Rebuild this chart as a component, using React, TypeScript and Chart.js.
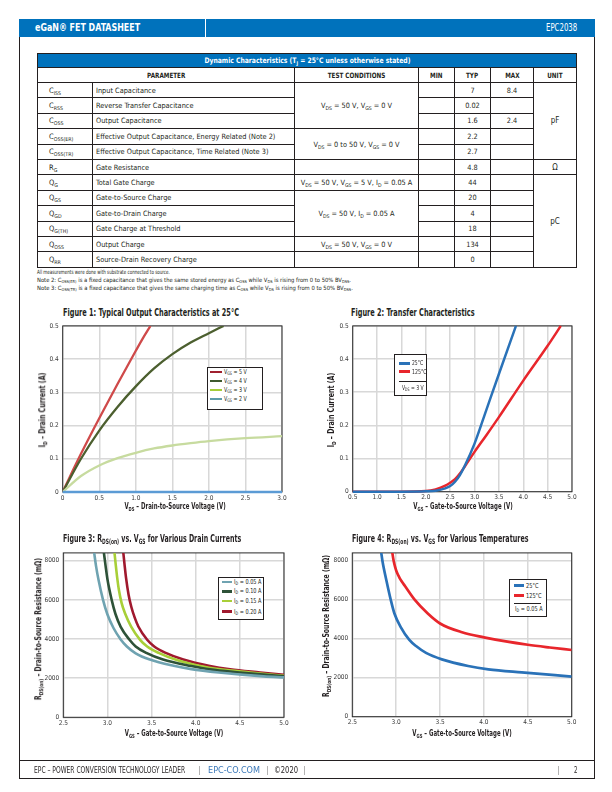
import React, { useEffect, useLayoutEffect, useRef } from "react";
import { Chart, registerables } from "chart.js";
Chart.register(...registerables);

const FONT = "'Liberation Sans Narrow', 'Arial Narrow', 'DejaVu Sans Condensed', sans-serif";
const BLUE = "#0072BC";
const INK = "#231F20";

// ---------------- Figure 1: Output characteristics ----------------
const fig1XTicks = [0, 0.5, 1, 1.5, 2, 2.5, 3];
const fig1XLabels = ["0", "0.5", "1.0", "1.5", "2.0", "2.5", "3.0"];
const fig1YTicks = [0, 0.1, 0.2, 0.3, 0.4, 0.5];
const fig1YLabels = ["0", "0.1", "0.2", "0.3", "0.4", "0.5"];
const fig1Vds5 = [0, 0.1, 0.25, 0.5, 0.75, 1.0, 1.1, 1.2];
const fig1Id5 = [0, 0.047, 0.115, 0.222, 0.325, 0.425, 0.464, 0.5];
const fig1Vds4 = [0, 0.25, 0.5, 0.75, 1.0, 1.25, 1.5, 1.75, 2.0, 2.2];
const fig1Id4 = [0, 0.1, 0.185, 0.256, 0.318, 0.372, 0.415, 0.45, 0.478, 0.5];
const fig1Vds3 = [0, 0.25, 0.5, 0.75, 1.0, 1.25, 1.5, 1.75, 2.0, 2.5, 3.0];
const fig1Id3 = [0, 0.048, 0.08, 0.102, 0.118, 0.131, 0.14, 0.147, 0.153, 0.162, 0.168];
const fig1Vds2 = [0, 0.5, 1.0, 1.5, 2.0, 2.5, 3.0];
const fig1Id2 = [0, 0, 0, 0, 0, 0, 0];

// ---------------- Figure 2: Transfer characteristics ----------------
const fig2XTicks = [0.5, 1, 1.5, 2, 2.5, 3, 3.5, 4, 4.5, 5];
const fig2XLabels = ["0.5", "1.0", "1.5", "2.0", "2.5", "3.0", "3.5", "4.0", "4.5", "5.0"];
const fig2YTicks = [0, 0.1, 0.2, 0.3, 0.4, 0.5];
const fig2YLabels = ["0", "0.1", "0.2", "0.3", "0.4", "0.5"];
const fig2Vgs25 = [0.5, 1.0, 1.5, 2.0, 2.2, 2.4, 2.5, 2.6, 2.7, 2.8, 3.0, 3.25, 3.5, 3.85];
const fig2Id25 = [0, 0, 0, 0.001, 0.003, 0.01, 0.017, 0.03, 0.05, 0.078, 0.145, 0.25, 0.355, 0.5];
const fig2Vgs125 = [0.5, 1.0, 1.5, 2.0, 2.2, 2.4, 2.5, 2.6, 2.7, 2.8, 3.0, 3.25, 3.5, 4.0, 4.5, 4.77];
const fig2Id125 = [0, 0, 0, 0.002, 0.007, 0.018, 0.027, 0.038, 0.055, 0.076, 0.12, 0.172, 0.225, 0.335, 0.44, 0.5];

// ---------------- Figure 3: RDS(on) vs VGS, drain currents ----------------
const rXTicks = [2.5, 3, 3.5, 4, 4.5, 5];
const rXLabels = ["2.5", "3.0", "3.5", "4.0", "4.5", "5.0"];
const rYTicks = [0, 2000, 4000, 6000, 8000];
const rYLabels = ["0", "2000", "4000", "6000", "8000"];
const fig3Vgs005 = [2.85, 2.87, 2.9, 2.95, 3.0, 3.07, 3.15, 3.22, 3.32, 3.48, 3.75, 3.95, 4.26, 4.77, 5.0];
const fig3R005 = [8400, 7750, 7000, 6000, 5250, 4550, 3980, 3620, 3270, 2950, 2630, 2460, 2290, 2090, 2040];
const fig3Vgs010 = [2.96, 2.98, 3.0, 3.05, 3.09, 3.15, 3.25, 3.32, 3.44, 3.63, 3.95, 4.16, 4.5, 5.0];
const fig3R010 = [8400, 7700, 7050, 5960, 5290, 4620, 3960, 3620, 3290, 2950, 2620, 2450, 2290, 2090];
const fig3Vgs015 = [3.08, 3.095, 3.11, 3.13, 3.16, 3.2, 3.27, 3.37, 3.45, 3.58, 3.77, 4.05, 4.28, 4.62, 5.0];
const fig3R015 = [8400, 7750, 7150, 6500, 5850, 5300, 4620, 3960, 3620, 3290, 2950, 2620, 2450, 2290, 2120];
const fig3Vgs020 = [3.18, 3.195, 3.21, 3.24, 3.27, 3.31, 3.35, 3.45, 3.53, 3.66, 3.86, 4.16, 4.39, 4.73, 5.0];
const fig3R020 = [8400, 7750, 7150, 6250, 5650, 5080, 4640, 3960, 3620, 3290, 2950, 2620, 2450, 2290, 2170];

// ---------------- Figure 4: RDS(on) vs VGS, temperatures ----------------
const fig4Vgs25 = [2.83, 2.845, 2.89, 2.94, 2.98, 3.05, 3.15, 3.23, 3.34, 3.52, 3.82, 4.05, 4.43, 5.0];
const fig4R25 = [8400, 7950, 6960, 5960, 5290, 4610, 3940, 3610, 3270, 2940, 2600, 2430, 2270, 2060];
const fig4Vgs125 = [2.956, 2.971, 2.99, 3.01, 3.035, 3.06, 3.1, 3.21, 3.36, 3.5, 3.75, 4.0, 4.25, 4.5, 4.75, 5.0];
const fig4R125 = [8400, 8000, 7650, 7380, 7150, 6960, 6700, 6000, 5290, 4780, 4330, 4070, 3860, 3690, 3550, 3420];

// ---------------- Table ----------------
const symbols = ["C_{ISS}", "C_{RSS}", "C_{OSS}", "C_{OSS(ER)}", "C_{OSS(TR)}", "R_{G}", "Q_{G}", "Q_{GS}", "Q_{GD}", "Q_{G(TH)}", "Q_{OSS}", "Q_{RR}"];
const params = [
  "Input Capacitance",
  "Reverse Transfer Capacitance",
  "Output Capacitance",
  "Effective Output Capacitance, Energy Related (Note 2)",
  "Effective Output Capacitance, Time Related (Note 3)",
  "Gate Resistance",
  "Total Gate Charge",
  "Gate-to-Source Charge",
  "Gate-to-Drain Charge",
  "Gate Charge at Threshold",
  "Output Charge",
  "Source-Drain Recovery Charge",
];
const minVals = ["", "", "", "", "", "", "", "", "", "", "", ""];
const typVals = ["7", "0.02", "1.6", "2.2", "2.7", "4.8", "44", "20", "4", "18", "134", "0"];
const maxVals = ["8.4", "", "2.4", "", "", "", "", "", "", "", "", ""];
const headers = ["PARAMETER", "TEST CONDITIONS", "MIN", "TYP", "MAX", "UNIT"];
// test conditions: [startRow, rowSpan, text]
const testConds: [number, number, string][] = [
  [0, 3, "V_{DS} = 50 V, V_{GS} = 0 V"],
  [3, 2, "V_{DS} = 0 to 50 V, V_{GS} = 0 V"],
  [5, 1, ""],
  [6, 1, "V_{DS} = 50 V, V_{GS} = 5 V, I_{D} = 0.05 A"],
  [7, 3, "V_{DS} = 50 V, I_{D} = 0.05 A"],
  [10, 1, "V_{DS} = 50 V, V_{GS} = 0 V"],
  [11, 1, ""],
];
const units: [number, number, string][] = [
  [0, 5, "pF"],
  [5, 1, "Ω"],
  [6, 6, "pC"],
];

function rich(s: string, subSize = "0.7em"): React.ReactNode[] {
  const parts = s.split(/_\{([^}]*)\}/);
  return parts.map((p, i) =>
    i % 2 === 1 ? (
      <sub key={i} style={{ fontSize: subSize, verticalAlign: "-0.3em", lineHeight: 0 }}>{p}</sub>
    ) : (
      <React.Fragment key={i}>{p}</React.Fragment>
    )
  );
}

type Series = { xs: number[]; ys: number[]; color: string; width?: number; clip?: number };
type Geo = { left: number; top: number; width: number; height: number; pl: number; pt: number; pr: number; pb: number };

function Plot(props: {
  geo: Geo; series: Series[]; xMin: number; xMax: number; xTicks: number[]; xLabels: string[];
  yMin: number; yMax: number; yTicks: number[]; yLabels: string[];
}) {
  const ref = useRef<HTMLCanvasElement>(null);
  useEffect(() => {
    const g = props.geo;
    const yW = g.pl - g.left;
    const padTop = g.pt - g.top;
    const padRight = g.left + g.width - g.pr;
    const xH = g.top + g.height - g.pb;
    const frame = {
      id: "frame",
      beforeDatasetsDraw(c: any) {
        const a = c.chartArea;
        const ctx = c.ctx;
        ctx.save();
        ctx.strokeStyle = "#2a2a2a";
        ctx.lineWidth = 1;
        ctx.strokeRect(a.left, a.top, a.right - a.left, a.bottom - a.top);
        ctx.restore();
      },
    };
    const tickFont = { family: FONT, size: 6.5 };
    const chart = new Chart(ref.current as HTMLCanvasElement, {
      type: "line",
      data: {
        datasets: props.series.map((s) => ({
          data: s.xs.map((x, i) => ({ x, y: s.ys[i] })),
          borderColor: s.color,
          borderWidth: s.width ?? 2.3,
          pointRadius: 0,
          cubicInterpolationMode: "monotone",
          fill: false,
          clip: s.clip ?? 0,
        })) as any,
      },
      options: {
        animation: false,
        responsive: false,
        layout: { padding: { left: 0, top: padTop, right: padRight, bottom: 0 } },
        plugins: { legend: { display: false }, tooltip: { enabled: false } },
        scales: {
          x: {
            type: "linear",
            min: props.xMin,
            max: props.xMax,
            afterBuildTicks: (s: any) => { s.ticks = props.xTicks.map((v) => ({ value: v })); },
            afterFit: (s: any) => { s.height = xH; },
            ticks: { callback: (_v: any, i: number) => props.xLabels[i], font: tickFont, color: "#3a3a3a", padding: 2, maxRotation: 0, autoSkip: false },
            grid: { color: "#d8d8d8", lineWidth: 1.5, drawTicks: false },
            border: { display: false },
          },
          y: {
            type: "linear",
            min: props.yMin,
            max: props.yMax,
            afterBuildTicks: (s: any) => { s.ticks = props.yTicks.map((v) => ({ value: v })); },
            afterFit: (s: any) => { s.width = yW; },
            ticks: { callback: (_v: any, i: number) => props.yLabels[i], font: tickFont, color: "#3a3a3a", padding: 4, autoSkip: false },
            grid: { color: "#d8d8d8", lineWidth: 1.5, drawTicks: false },
            border: { display: false },
          },
        },
      } as any,
      plugins: [frame],
    });
    return () => chart.destroy();
  }, []);
  const g = props.geo;
  return (
    <canvas
      ref={ref}
      width={g.width}
      height={g.height}
      style={{ position: "absolute", left: g.left, top: g.top, width: g.width, height: g.height }}
    />
  );
}

// Text fitted to a target width (x: left edge, or centre when center/rot)
function Fit(props: { x: number; y: number; w: number; size: number; bold?: boolean; center?: boolean; rot?: boolean; color?: string; children: React.ReactNode }) {
  const ref = useRef<HTMLDivElement>(null);
  const base = props.rot ? "translate(-50%,-50%) rotate(-90deg)" : props.center ? "translate(-50%,-50%)" : "translateY(-50%)";
  useLayoutEffect(() => {
    const el = ref.current as HTMLDivElement;
    const nat = el.scrollWidth || 1;
    el.style.transform = `${base} scaleX(${props.w / nat})`;
  }, []);
  return (
    <div
      ref={ref}
      style={{
        position: "absolute", left: props.x, top: props.y, transform: base,
        transformOrigin: props.rot || props.center ? "50% 50%" : "0 50%",
        fontSize: props.size, fontWeight: props.bold ? "bold" : "normal", whiteSpace: "nowrap", lineHeight: 1.2,
        color: props.color ?? INK,
      }}
    >
      {props.children}
    </div>
  );
}

function Legend(props: {
  box: [number, number, number, number];
  lineX: [number, number];
  textX: number;
  rows: { y: number; color?: string; label: string; w: number; x?: number }[];
  sep?: { y: number; x1: number; x2: number };
}) {
  const [l, t, r, b] = props.box;
  return (
    <>
      <div style={{ position: "absolute", left: l, top: t, width: r - l, height: b - t, border: `1px solid ${INK}`, background: "#fff", boxSizing: "border-box" }} />
      {props.rows.map((row, i) => (
        <React.Fragment key={i}>
          {row.color && (
            <div style={{ position: "absolute", left: props.lineX[0], top: row.y - 1.25, width: props.lineX[1] - props.lineX[0], height: 2.5, background: row.color }} />
          )}
          <Fit x={row.x ?? props.textX} y={row.y} w={row.w} size={6.8}>{rich(row.label)}</Fit>
        </React.Fragment>
      ))}
      {props.sep && (
        <div style={{ position: "absolute", left: props.sep.x1, top: props.sep.y, width: props.sep.x2 - props.sep.x1, height: 0.8, background: INK }} />
      )}
    </>
  );
}

function DataTable() {
  const colW = [55, 202, 124, 36, 36, 43, 43];
  const cell: React.CSSProperties = { border: `1px solid ${INK}`, padding: 0, fontSize: 7.3, textAlign: "center", verticalAlign: "middle", overflow: "hidden", whiteSpace: "nowrap" };
  const sq = (k: number, n: React.ReactNode) => <span style={{ display: "inline-block", transform: `scaleX(${k})` }}>{n}</span>;
  return (
    <table style={{ position: "absolute", left: 37, top: 53, width: 540, borderCollapse: "collapse", tableLayout: "fixed", fontFamily: FONT, color: INK }}>
      <colgroup>{colW.map((w, i) => <col key={i} style={{ width: w }} />)}</colgroup>
      <tbody>
        <tr style={{ height: 14 }}>
          <td colSpan={7} style={{ ...cell, background: BLUE, color: "#fff", fontWeight: "bold", fontSize: 7.5 }}>
            {sq(0.9, rich("Dynamic Characteristics (T_{J} = 25°C unless otherwise stated)"))}
          </td>
        </tr>
        <tr style={{ height: 15 }}>
          {headers.map((h, i) => (
            <td key={i} colSpan={i === 0 ? 2 : 1} style={{ ...cell, fontWeight: "bold" }}>{sq(0.86, h)}</td>
          ))}
        </tr>
        {params.map((p, r) => {
          const tc = testConds.find((t) => t[0] === r);
          const un = units.find((u) => u[0] === r);
          return (
            <tr key={r} style={{ height: 15.4 }}>
              <td style={{ ...cell, textAlign: "left", paddingLeft: 11, fontSize: 7.5 }}>{rich(symbols[r])}</td>
              <td style={{ ...cell, textAlign: "left", paddingLeft: 3 }}>{p}</td>
              {tc && <td rowSpan={tc[1]} style={cell}>{rich(tc[2])}</td>}
              <td style={cell}>{minVals[r]}</td>
              <td style={cell}>{typVals[r]}</td>
              <td style={cell}>{maxVals[r]}</td>
              {un && <td rowSpan={un[1]} style={{ ...cell, fontSize: 8 }}>{un[2]}</td>}
            </tr>
          );
        })}
      </tbody>
    </table>
  );
}

export default function App() {
  const fig1Geo: Geo = { left: 30, top: 318, width: 262, height: 204, pl: 62.7, pt: 325, pr: 282, pb: 492 };
  const fig2Geo: Geo = { left: 320, top: 318, width: 262, height: 204, pl: 352.7, pt: 325, pr: 572, pb: 491.7 };
  const fig3Geo: Geo = { left: 30, top: 545, width: 264, height: 205, pl: 63.3, pt: 550, pr: 284, pb: 717.3 };
  const fig4Geo: Geo = { left: 320, top: 545, width: 262, height: 205, pl: 352.3, pt: 550, pr: 571.7, pb: 716.7 };

  return (
    <div style={{ position: "absolute", left: 0, top: 0, width: 612, height: 792, background: "#fff", fontFamily: FONT, color: INK, overflow: "hidden" }}>
      {/* page frame */}
      <div style={{ position: "absolute", left: 19, top: 19, width: 576, height: 760, border: `1px solid ${INK}`, boxSizing: "border-box" }} />
      {/* header */}
      <div style={{ position: "absolute", left: 19, top: 19, width: 576, height: 18, background: BLUE }} />
      <div style={{ position: "absolute", left: 205, top: 19, width: 1.2, height: 18, background: "#fff" }} />
      <Fit x={34.5} y={28} w={105} size={11} bold color="#fff">eGaN® FET DATASHEET</Fit>
      <Fit x={546} y={28} w={31} size={11} color="#fff">EPC2038</Fit>

      <DataTable />

      {/* notes */}
      <Fit x={37} y={271.5} w={133} size={5.8}>All measurements were done with substrate connected to source.</Fit>
      <Fit x={37} y={279.5} w={314} size={5.8}>{rich("Note 2: C_{OSS(ER)} is a fixed capacitance that gives the same stored energy as C_{OSS} while V_{DS} is rising from 0 to 50% BV_{DSS}.")}</Fit>
      <Fit x={37} y={287.5} w={316} size={5.8}>{rich("Note 3: C_{OSS(TR)} is a fixed capacitance that gives the same charging time as C_{OSS} while V_{DS} is rising from 0 to 50% BV_{DSS}.")}</Fit>

      {/* Figure 1 */}
      <Fit x={62.5} y={311.5} w={176} size={10.5} bold>Figure 1: Typical Output Characteristics at 25°C</Fit>
      <Plot
        geo={fig1Geo}
        xMin={0} xMax={3} xTicks={fig1XTicks} xLabels={fig1XLabels}
        yMin={0} yMax={0.5} yTicks={fig1YTicks} yLabels={fig1YLabels}
        series={[
          { xs: fig1Vds2, ys: fig1Id2, color: "#5B9BD5", width: 2.5, clip: 3 },
          { xs: fig1Vds3, ys: fig1Id3, color: "#C7DB9F" },
          { xs: fig1Vds4, ys: fig1Id4, color: "#4C5F2F" },
          { xs: fig1Vds5, ys: fig1Id5, color: "#CF4A4A" },
        ]}
      />
      <Fit x={174.5} y={507.3} w={101} size={8} bold center>{rich("V_{DS} – Drain-to-Source Voltage (V)")}</Fit>
      <Fit x={43.3} y={410} w={75} size={8} bold center rot>{rich("I_{D} – Drain Current (A)")}</Fit>
      <Legend
        box={[206.7, 366.7, 263.3, 410]}
        lineX={[210, 221.7]}
        textX={224}
        rows={[
          { y: 371.8, color: "#A0202F", label: "V_{GS} = 5 V", w: 22.5 },
          { y: 380.9, color: "#3E5A2E", label: "V_{GS} = 4 V", w: 22.5 },
          { y: 390, color: "#A5CD39", label: "V_{GS} = 3 V", w: 22.5 },
          { y: 399.1, color: "#5C9BA9", label: "V_{GS} = 2 V", w: 22.5 },
        ]}
      />

      {/* Figure 2 */}
      <Fit x={350.7} y={311.5} w={123.3} size={10.5} bold>Figure 2: Transfer Characteristics</Fit>
      <Plot
        geo={fig2Geo}
        xMin={0.5} xMax={5} xTicks={fig2XTicks} xLabels={fig2XLabels}
        yMin={0} yMax={0.5} yTicks={fig2YTicks} yLabels={fig2YLabels}
        series={[
          { xs: fig2Vgs25, ys: fig2Id25, color: "#2A72B8", width: 2.5, clip: 3 },
          { xs: fig2Vgs125, ys: fig2Id125, color: "#E8262C", width: 2.5, clip: 3 },
        ]}
      />
      <Fit x={462.5} y={507.3} w={99} size={8} bold center>{rich("V_{GS} – Gate-to-Source Voltage (V)")}</Fit>
      <Fit x={331.7} y={410} w={75} size={8} bold center rot>{rich("I_{D} – Drain Current (A)")}</Fit>
      <Legend
        box={[394, 354.3, 427.3, 395.7]}
        lineX={[399, 410]}
        textX={412}
        rows={[
          { y: 363.3, color: "#2A72B8", label: "25°C", w: 11 },
          { y: 371.7, color: "#E8262C", label: "125°C", w: 14.5 },
          { y: 388, label: "V_{DS} = 3 V", w: 21.5, x: 401.7 },
        ]}
        sep={{ y: 380.6, x1: 399, x2: 426.5 }}
      />

      {/* Figure 3 */}
      <Fit x={63.3} y={537.7} w={178.4} size={10.5} bold>{rich("Figure 3: R_{DS(on)} vs. V_{GS} for Various Drain Currents")}</Fit>
      <Plot
        geo={fig3Geo}
        xMin={2.5} xMax={5} xTicks={rXTicks} xLabels={rXLabels}
        yMin={0} yMax={8400} yTicks={rYTicks} yLabels={rYLabels}
        series={[
          { xs: fig3Vgs005, ys: fig3R005, color: "#6FA3B1", width: 2.6 },
          { xs: fig3Vgs010, ys: fig3R010, color: "#2E5238", width: 2.6 },
          { xs: fig3Vgs015, ys: fig3R015, color: "#A8CF38", width: 2.6 },
          { xs: fig3Vgs020, ys: fig3R020, color: "#A0192E", width: 2.6 },
        ]}
      />
      <Fit x={174} y={734.3} w={98} size={8} bold center>{rich("V_{GS} – Gate-to-Source Voltage (V)")}</Fit>
      <Fit x={39.3} y={629} w={142} size={8} bold center rot>{rich("R_{DS(on)} – Drain-to-Source Resistance (mΩ)")}</Fit>
      <Legend
        box={[218.3, 577.3, 264, 620.3]}
        lineX={[221.7, 232]}
        textX={234}
        rows={[
          { y: 582, color: "#6FA3B1", label: "I_{D} = 0.05 A", w: 27.5 },
          { y: 591.3, color: "#2E5238", label: "I_{D} = 0.10 A", w: 27.5 },
          { y: 601.2, color: "#A8CF38", label: "I_{D} = 0.15 A", w: 27.5 },
          { y: 611.5, color: "#A0192E", label: "I_{D} = 0.20 A", w: 27.5 },
        ]}
      />

      {/* Figure 4 */}
      <Fit x={351.7} y={537.7} w={176.6} size={10.5} bold>{rich("Figure 4: R_{DS(on)} vs. V_{GS} for Various Temperatures")}</Fit>
      <Plot
        geo={fig4Geo}
        xMin={2.5} xMax={5} xTicks={rXTicks} xLabels={rXLabels}
        yMin={0} yMax={8400} yTicks={rYTicks} yLabels={rYLabels}
        series={[
          { xs: fig4Vgs25, ys: fig4R25, color: "#2A72B8", width: 2.7 },
          { xs: fig4Vgs125, ys: fig4R125, color: "#E8262C", width: 2.7 },
        ]}
      />
      <Fit x={462} y={734.3} w={99} size={8} bold center>{rich("V_{GS} – Gate-to-Source Voltage (V)")}</Fit>
      <Fit x={326.5} y={626} w={142} size={8} bold center rot>{rich("R_{DS(on)} – Drain-to-Source Resistance (mΩ)")}</Fit>
      <Legend
        box={[508.7, 579.3, 547.3, 617.3]}
        lineX={[513.7, 524]}
        textX={525.7}
        rows={[
          { y: 585.7, color: "#2A72B8", label: "25°C", w: 12.3 },
          { y: 595.5, color: "#E8262C", label: "125°C", w: 15.6 },
          { y: 609, label: "I_{D} = 0.05 A", w: 27.7, x: 515.3 },
        ]}
        sep={{ y: 603.3, x1: 513.7, x2: 540.7 }}
      />

      {/* footer */}
      <div style={{ position: "absolute", left: 19, top: 760, width: 576, height: 1, background: INK }} />
      <Fit x={34} y={769.5} w={151} size={8.5}>EPC – POWER CONVERSION TECHNOLOGY LEADER</Fit>
      <Fit x={198.5} y={769.5} w={1.6} size={8.5}>|</Fit>
      <Fit x={208} y={769.5} w={52} size={8.5} color="#3B78B8">EPC-CO.COM</Fit>
      <Fit x={267} y={769.5} w={1.6} size={8.5}>|</Fit>
      <Fit x={274} y={769.5} w={24} size={8.5}>©2020</Fit>
      <Fit x={304} y={769.5} w={1.6} size={8.5}>|</Fit>
      <Fit x={557.8} y={769.5} w={1.6} size={8.5}>|</Fit>
      <Fit x={574} y={769.5} w={3.6} size={8.5}>2</Fit>
    </div>
  );
}
